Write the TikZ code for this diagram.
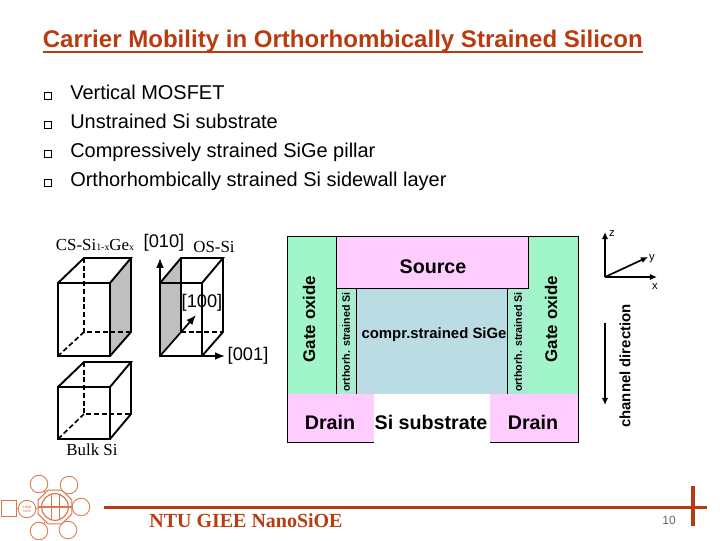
\documentclass[tikz,border=0pt]{standalone}
\usepackage{fontspec}
\usetikzlibrary{arrows.meta,shapes.geometric}
\setmainfont{Liberation Sans}
\newfontfamily\seriffont{Liberation Serif}
\definecolor{brick}{HTML}{B83C10}
\definecolor{oxidegreen}{HTML}{A0F6C8}
\definecolor{contactpink}{HTML}{FFCCFF}
\definecolor{pillarblue}{HTML}{B9DDE2}
\definecolor{logocolor}{HTML}{D9764A}
\tikzset{
  bullettext/.style={anchor=base west,inner sep=0pt,font=\fontsize{14.2}{16}\selectfont},
  bulletbox/.style={draw,line width=0.6pt,minimum size=4.4pt,inner sep=0pt},
  region/.style={anchor=center,font=\fontsize{14}{16}\selectfont\bfseries,inner sep=0pt},
  thinregion/.style={anchor=center,rotate=90,font=\fontsize{7.6}{9}\selectfont\bfseries,inner sep=0pt},
  cubeedge/.style={line width=1.35pt,line cap=round},
  hiddenedge/.style={line width=1.2pt,dash pattern=on 3.5pt off 2pt},
  dirarrow/.style={-{Latex[length=7pt,width=5.5pt]},line width=1.2pt},
  axisarrow/.style={-{Latex[length=5pt,width=4.5pt]},line width=1.2pt},
  axislabel/.style={font=\fontsize{13}{15}\selectfont,inner sep=0pt},
  smalllabel/.style={font=\fontsize{8}{10}\selectfont,inner sep=0pt},
  cubelabel/.style={font=\fontsize{12}{14}\selectfont\seriffont,inner sep=0pt},
  satellite/.style={draw=logocolor,circle,fill=white,minimum size=12.5pt,inner sep=0pt,line width=0.6pt,font=\fontsize{2.8}{3.2}\selectfont,text=logocolor,align=center}
}
\begin{document}
\begin{tikzpicture}[x=0.025cm,y=-0.025cm]
\useasboundingbox (0,0) rectangle (720,540);

% Title and bullets
\node[anchor=base west,inner sep=0pt,text=brick,font=\fontsize{17.1}{19}\selectfont\bfseries] (title) at (42.5,47) {Carrier Mobility in Orthorhombically Strained Silicon};
\draw[brick,line width=1pt] (title.west |- 0,52) -- (title.east |- 0,52);

\foreach \yy/\txt [count=\i] in {92/Vertical MOSFET,121/Unstrained Si substrate,150/Compressively strained SiGe pillar,179/Orthorhombically strained Si sidewall layer}{
  \node[bulletbox] (box\i) at (48,\yy+4) {};
  \node[bullettext] (item\i) at (70,\yy+7.5) {\txt};
}

% Device cross section
\fill[oxidegreen] (287,236) rectangle (336,394);
\fill[oxidegreen] (528.5,236) rectangle (578,394);
\fill[contactpink] (336,236) rectangle (528.5,288.5);
\fill[oxidegreen!60!pillarblue] (336,288.5) rectangle (356.5,394);
\fill[oxidegreen!60!pillarblue] (507.5,288.5) rectangle (528.5,394);
\fill[pillarblue] (356.5,288.5) rectangle (507.5,394);
\fill[contactpink] (287,394) rectangle (374,442);
\fill[contactpink] (490,394) rectangle (578,442);
\draw[line width=0.6pt] (374,442) -- (287,442) -- (287,236) -- (578,236) -- (578,442) -- (490,442);
\draw[line width=0.6pt] (336,236) -- (336,394);
\draw[line width=0.6pt] (528.5,236) -- (528.5,288.5) -- (336,288.5);
\draw[line width=0.6pt] (356.5,288.5) -- (356.5,394);
\draw[line width=0.6pt] (507.5,288.5) -- (507.5,394);

\node[region] (source) at (433,267) {Source};
\node[region,font=\fontsize{10.6}{12}\selectfont\bfseries] (pillar) at (434,335) {compr.strained SiGe};
\node[region] (drainL) at (330,422) {Drain};
\node[region] (substrate) at (431,422) {Si substrate};
\node[region] (drainR) at (533,422) {Drain};
\node[region,rotate=90,font=\fontsize{12}{14}\selectfont\bfseries] (oxideL) at (309,319) {Gate oxide};
\node[region,rotate=90,font=\fontsize{12}{14}\selectfont\bfseries] (oxideR) at (551,319) {Gate oxide};
\node[thinregion] (sideL) at (346,342) {orthorh. strained Si};
\node[thinregion] (sideR) at (518,342) {orthorh. strained Si};

% Cubes
\fill[black!25] (110,283) -- (131,258) -- (131,332) -- (110,356) -- cycle;
\draw[cubeedge] (58,283) rectangle (110,356);
\draw[cubeedge] (58,283) -- (84,258) -- (131,258) -- (110,283);
\draw[cubeedge] (131,258) -- (131,332) -- (110,356);
\draw[hiddenedge] (84,258) -- (84,332) -- (131,332);
\draw[hiddenedge] (84,332) -- (58,356);
\node[cubelabel] (csLabel) at (95,245) {CS-Si{\fontsize{7}{8}\selectfont 1-x}Ge{\fontsize{7}{8}\selectfont x}};

\draw[cubeedge] (58,387) rectangle (110,439);
\draw[cubeedge] (58,387) -- (84,362) -- (131,362) -- (110,387);
\draw[cubeedge] (131,362) -- (131,414) -- (110,439);
\draw[hiddenedge] (84,362) -- (84,414) -- (131,414);
\draw[hiddenedge] (84,414) -- (58,439);
\node[cubelabel] (bulkLabel) at (92,450) {Bulk Si};

\fill[black!25] (160,283) -- (181,258) -- (181,332) -- (160,356) -- cycle;
\draw[cubeedge] (160,283) rectangle (202,356);
\draw[cubeedge] (160,283) -- (181,258) -- (223,258) -- (202,283);
\draw[cubeedge] (223,258) -- (223,332) -- (202,356);
\draw[cubeedge] (181,258) -- (181,332);
\draw[hiddenedge] (181,332) -- (223,332);
\node[cubelabel] (osLabel) at (214,247) {OS-Si};

% Crystal directions
\coordinate (corner) at (160,356);
\coordinate (tip010) at (160,258);
\coordinate (tip100) at (196,315);
\coordinate (start001) at (202,356);
\coordinate (tip001) at (225,356);
\draw[dirarrow] (corner) -- (tip010);
\draw[dirarrow] (corner) -- (tip100);
\draw[dirarrow] (start001) -- (tip001);
\node[axislabel] (lab010) at (164,243) {[010]};
\node[axislabel] (lab100) at (202,303) {[100]};
\node[axislabel] (lab001) at (248,356) {[001]};

% Axes
\coordinate (origin) at (605,277);
\coordinate (zTip) at (605,232);
\coordinate (yTip) at (648,257);
\coordinate (xTip) at (657,277);
\draw[axisarrow] (origin) -- (zTip);
\draw[axisarrow] (origin) -- (yTip);
\draw[axisarrow] (origin) -- (xTip);
\node[smalllabel] (zLabel) at (612,234) {z};
\node[smalllabel] (yLabel) at (652,259) {y};
\node[smalllabel] (xLabel) at (655,287) {x};
\coordinate (chanTop) at (605,323);
\coordinate (chanEnd) at (605,405);
\draw[axisarrow] (chanTop) -- (chanEnd);
\node[region,rotate=90,font=\fontsize{10.6}{12}\selectfont\bfseries] (chanLabel) at (625,366) {channel direction};

% Footer
\draw[brick,line width=2.8pt] (104,507.5) -- (707,507.5);
\draw[brick,line width=2.8pt] (693,486) -- (693,526);
\node[text=brick,inner sep=0pt,font=\fontsize{14.2}{16}\selectfont\seriffont\bfseries] (footer) at (246,521) {NTU GIEE NanoSiOE};
\node[text=black!60,inner sep=0pt,font=\fontsize{8.5}{10}\selectfont] (page) at (669,520) {10};

% Logo
\node[draw=logocolor,regular polygon,regular polygon sides=8,minimum size=26pt,inner sep=0pt,line width=0.8pt] (hub) at (55,507) {};
\node[draw=logocolor,circle,minimum size=19pt,inner sep=0pt,line width=0.8pt] (hubin) at (55,507) {};
\foreach \xx/\yy/\nm/\txt in {39/484/a/,69/485/b/,81/507/c/,68/530/d/,39/531/e/,27/509/f/{Load\\lock}}{
  \draw[logocolor,line width=0.6pt] (hub) -- (\xx,\yy);
  \node[satellite] (sat\nm) at (\xx,\yy) {\txt};
}
\draw[logocolor,line width=1.8pt] (hub.west) -- (hub.east);
\draw[logocolor,line width=0.6pt] (51,494) -- (51,520);
\draw[logocolor,line width=0.6pt] (59,494) -- (59,520);
\node[draw=logocolor,line width=0.6pt,minimum width=10.6pt,minimum height=11.3pt,inner sep=0pt] (logobox) at (8.5,508) {};
\draw[logocolor,line width=0.6pt] (logobox) -- (satf);
\end{tikzpicture}
\end{document}
